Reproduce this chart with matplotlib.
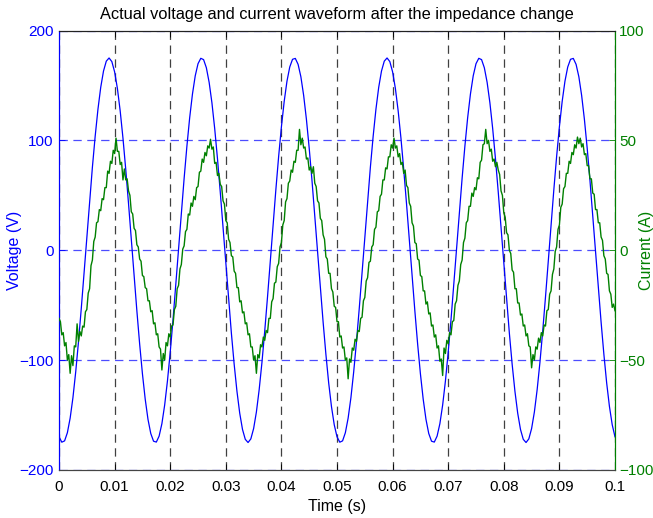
import numpy as np
import matplotlib
matplotlib.use("Agg")
import matplotlib.pyplot as plt

plt.rcParams['font.family'] = ['Liberation Sans', 'DejaVu Sans']
plt.rcParams['lines.scale_dashes'] = False

# ---------------- data ----------------
t_end = 0.1
# voltage samples, 0.5 ms apart (V)
voltage = [
    -169.8, -174.7, -173.5, -166.1, -152.8, -134.2, -110.7, -83.3, -53.0, -20.8,
    12.1, 44.6, 75.5, 103.7, 128.3, 148.3, 163.1, 172.1, 175.0, 171.7,
    162.3, 147.2, 126.8, 102.0, 73.5, 42.5, 9.9, -23.0, -55.1, -85.3,
    -112.4, -135.5, -153.9, -166.8, -173.8, -174.6, -169.2, -157.9, -140.9, -119.0,
    -92.8, -63.4, -31.7, 1.1, 33.9, 65.4, 94.7, 120.7, 142.2, 158.8,
    169.8, 174.7, 173.5, 166.1, 152.8, 134.2, 110.7, 83.3, 53.0, 20.8,
    -12.1, -44.6, -75.5, -103.7, -128.3, -148.3, -163.1, -172.1, -175.0, -171.7,
    -162.3, -147.2, -126.8, -102.0, -73.5, -42.5, -9.9, 23.0, 55.1, 85.3,
    112.4, 135.5, 153.9, 166.8, 173.8, 174.6, 169.2, 157.9, 140.9, 119.0,
    92.8, 63.4, 31.7, -1.1, -33.9, -65.4, -94.7, -120.7, -142.2, -158.8,
    -169.8, -174.7, -173.5, -166.1, -152.8, -134.2, -110.7, -83.3, -53.0, -20.8,
    12.1, 44.6, 75.5, 103.7, 128.3, 148.3, 163.1, 172.1, 175.0, 171.7,
    162.3, 147.2, 126.8, 102.0, 73.5, 42.5, 9.9, -23.0, -55.1, -85.3,
    -112.4, -135.5, -153.9, -166.8, -173.8, -174.6, -169.2, -157.9, -140.9, -119.0,
    -92.8, -63.4, -31.7, 1.1, 33.9, 65.4, 94.7, 120.7, 142.2, 158.8,
    169.8, 174.7, 173.5, 166.1, 152.8, 134.2, 110.7, 83.3, 53.0, 20.8,
    -12.1, -44.6, -75.5, -103.7, -128.3, -148.3, -163.1, -172.1, -175.0, -171.7,
    -162.3, -147.2, -126.8, -102.0, -73.5, -42.5, -9.9, 23.0, 55.1, 85.3,
    112.4, 135.5, 153.9, 166.8, 173.8, 174.6, 169.2, 157.9, 140.9, 119.0,
    92.8, 63.4, 31.7, -1.1, -33.9, -65.4, -94.7, -120.7, -142.2, -158.8,
    -169.8,
]

# current samples, 0.25 ms apart (A)
current = [
    -31.0, -32.5, -38.5, -37.5, -43.5, -42.0, -50.0, -47.5, -56.0, -48.0, -52.5, -43.5,
    -44.0, -33.5, -41.5, -37.0, -39.0, -34.5, -35.0, -28.0, -27.0, -19.5, -17.5, -7.0,
    -4.5, 4.0, 6.0, 12.5, 13.0, 18.5, 18.0, 23.5, 23.0, 28.5, 28.5, 36.0,
    35.0, 40.5, 39.5, 45.5, 44.0, 51.0, 45.0, 45.0, 39.0, 40.0, 32.0, 37.0,
    32.0, 32.5, 27.0, 25.0, 17.5, 16.5, 10.0, 9.0, 2.5, 1.5, -4.0, -5.0,
    -11.5, -12.0, -17.0, -17.5, -23.0, -23.0, -28.0, -27.5, -33.5, -33.0, -38.5, -38.0,
    -44.0, -45.0, -54.5, -47.0, -50.0, -42.0, -43.5, -38.0, -39.5, -34.5, -34.0, -27.0,
    -25.5, -17.5, -16.0, -8.5, -6.5, 0.5, 2.0, 8.5, 9.5, 16.5, 16.0, 21.5,
    20.0, 24.5, 23.0, 28.5, 29.0, 35.5, 36.0, 41.5, 40.0, 44.5, 43.0, 47.5,
    46.5, 50.5, 46.0, 47.0, 39.5, 40.0, 34.0, 35.0, 30.0, 29.0, 22.5, 21.0,
    13.5, 12.5, 5.0, 3.5, -2.5, -3.0, -9.5, -10.5, -17.0, -17.0, -23.5, -23.0,
    -28.5, -28.0, -33.5, -33.0, -38.5, -38.0, -44.0, -44.0, -50.0, -48.0, -56.0, -47.5,
    -49.0, -43.0, -44.0, -39.5, -41.0, -36.5, -37.5, -31.0, -31.0, -23.5, -22.0, -15.0,
    -14.5, -7.5, -6.0, 1.5, 3.5, 11.5, 13.5, 22.0, 23.5, 30.5, 31.5, 36.5,
    35.5, 40.5, 40.0, 45.5, 45.5, 55.0, 48.0, 51.0, 46.5, 47.0, 41.5, 42.0,
    36.5, 38.0, 35.0, 38.0, 30.5, 29.0, 22.5, 21.5, 14.5, 13.5, 7.0, 5.0,
    -3.0, -4.0, -10.5, -10.5, -17.5, -19.0, -25.5, -26.0, -32.5, -32.5, -39.5, -39.0,
    -44.5, -44.0, -50.0, -49.0, -58.5, -49.5, -51.0, -44.5, -45.5, -40.5, -41.5, -36.5,
    -37.0, -31.0, -30.5, -23.0, -21.5, -14.0, -12.5, -5.5, -5.0, 1.5, 2.5, 9.5,
    10.5, 17.5, 18.0, 24.5, 25.5, 32.0, 32.0, 37.5, 37.0, 42.5, 42.5, 48.0,
    46.5, 51.0, 46.5, 47.5, 42.5, 44.0, 39.0, 40.0, 35.0, 36.5, 29.5, 28.5,
    21.5, 20.0, 12.5, 11.0, 3.5, 3.0, -4.0, -4.5, -11.5, -12.0, -18.5, -18.5,
    -24.5, -23.5, -29.0, -28.5, -34.5, -34.0, -39.5, -38.5, -44.5, -43.5, -50.5, -49.5,
    -57.0, -44.5, -47.0, -41.0, -42.5, -37.5, -38.5, -32.5, -32.0, -24.5, -23.0, -16.0,
    -14.0, -6.5, -4.5, 3.5, 5.5, 12.5, 13.5, 20.0, 20.0, 26.0, 24.5, 28.5,
    27.5, 33.0, 32.5, 40.0, 41.0, 48.0, 48.5, 55.0, 48.5, 50.0, 45.0, 46.0,
    40.5, 41.5, 38.0, 40.0, 36.5, 34.5, 27.0, 25.0, 17.0, 15.0, 8.0, 7.0,
    0.0, -1.5, -9.0, -10.0, -17.5, -17.5, -24.0, -24.0, -29.5, -29.0, -34.5, -34.0,
    -39.0, -38.0, -43.5, -44.0, -53.5, -47.5, -50.0, -44.0, -45.0, -40.0, -42.0, -37.5,
    -39.0, -34.0, -34.5, -27.5, -27.0, -20.0, -18.5, -11.0, -8.5, -0.5, 1.5, 9.5,
    11.5, 19.5, 21.0, 28.0, 29.0, 35.0, 35.0, 40.5, 39.5, 44.5, 43.5, 48.0,
    46.5, 51.5, 48.5, 51.0, 47.0, 48.5, 43.5, 44.0, 38.5, 38.5, 32.5, 32.5,
    26.0, 25.5, 18.5, 18.5, 12.5, 12.5, 6.0, 4.5, -2.5, -4.0, -10.5, -11.0,
    -18.5, -20.0, -26.0, -24.5, -27.5,
]

x_ticks = [0, 0.01, 0.02, 0.03, 0.04, 0.05, 0.06, 0.07, 0.08, 0.09, 0.1]
x_tick_labels = ['0', '0.01', '0.02', '0.03', '0.04', '0.05', '0.06', '0.07', '0.08', '0.09', '0.1']
v_ticks = [-200, -100, 0, 100, 200]
i_ticks = [-100, -50, 0, 50, 100]

title = 'Actual voltage and current waveform after the impedance change'
xlabel = 'Time (s)'
ylabel_left = 'Voltage (V)'
ylabel_right = 'Current (A)'

# ---------------- drawing ----------------
BLUE = '#0000ff'
GREEN = '#008000'
FS_TICK = 11
FS_LABEL = 11.5
FS_TITLE = 11.8

t_v = np.linspace(0, t_end, len(voltage))
t_i = np.linspace(0, t_end, len(current))

fig = plt.figure(figsize=(6.53, 5.18), dpi=100)
ax = fig.add_axes([0.0904, 0.0927, 0.8514, 0.8484])
ax2 = ax.twinx()

ax.plot(t_v, voltage, color=BLUE, lw=0.9, zorder=3)
ax2.plot(t_i, current, color=GREEN, lw=1.0, zorder=3)

ax.set_xlim(0, t_end)
ax.set_ylim(-200, 200)
ax2.set_ylim(-100, 100)

ax.set_xticks(x_ticks)
ax.set_xticklabels(x_tick_labels)
ax.set_yticks(v_ticks)
ax2.set_yticks(i_ticks)

ax.xaxis.grid(True, color='#000000', alpha=0.75, lw=0.9, linestyle=(0, (6, 4)))
ax.yaxis.grid(True, color=BLUE, alpha=0.7, lw=0.9, linestyle=(0, (6, 4)))
ax.set_axisbelow(True)

ax.tick_params(axis='x', direction='in', length=4, width=0.6, top=True,
               labelsize=FS_TICK, pad=7, colors='black')
ax.tick_params(axis='y', direction='in', length=4, width=0.6, left=True, right=False,
               labelsize=FS_TICK, pad=4, colors=BLUE)
ax2.tick_params(axis='y', direction='in', length=4, width=0.6, right=True, left=False,
                labelsize=FS_TICK, pad=3, colors=GREEN)

for a in (ax, ax2):
    a.spines['top'].set_color('#222222')
    a.spines['bottom'].set_color('#444444')
    a.spines['left'].set_color(BLUE)
    a.spines['right'].set_color(GREEN)
    for s in a.spines.values():
        s.set_linewidth(0.8)

ax.set_title(title, fontsize=FS_TITLE, pad=8)
ax.set_xlabel(xlabel, fontsize=FS_LABEL, labelpad=4)
ax.set_ylabel(ylabel_left, fontsize=FS_LABEL, color=BLUE)
ax.yaxis.set_label_coords(-0.0665, 0.5)
ax2.set_ylabel(ylabel_right, fontsize=FS_LABEL, color=GREEN)
ax2.yaxis.set_label_coords(1.0435, 0.5)

fig.savefig('out.png', dpi=100)
